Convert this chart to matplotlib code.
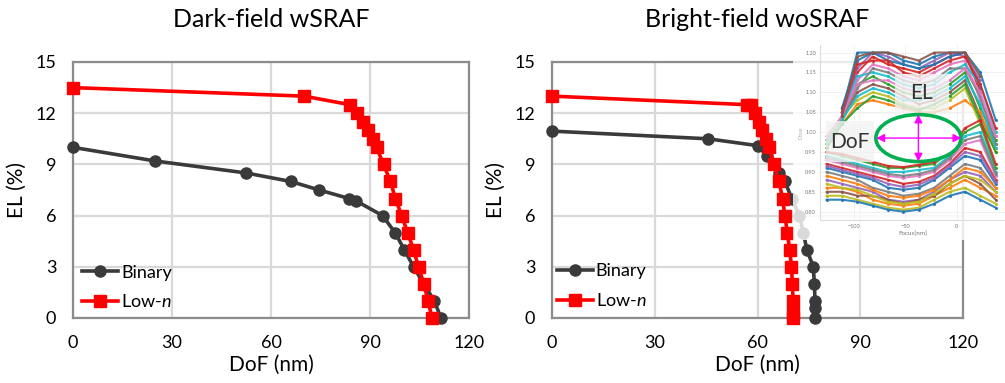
import numpy as np
import matplotlib
matplotlib.use("Agg")
import matplotlib.pyplot as plt
from matplotlib.patches import Rectangle, Ellipse

plt.rcParams['font.family'] = ['Lato', 'DejaVu Sans']
plt.rcParams['mathtext.fontset'] = 'custom'
plt.rcParams['mathtext.rm'] = 'Lato'
plt.rcParams['mathtext.it'] = 'Lato:italic'

# ---------------- data ----------------
titles = ["Dark-field wSRAF", "Bright-field woSRAF"]
xticks = [0, 30, 60, 90, 120]
yticks = [0, 3, 6, 9, 12, 15]

left_lown_x = [0, 70.0, 83.9, 86.2, 87.8, 89.3, 90.8, 92.0, 94.1, 96.2, 97.7,
               99.6, 101.4, 103.2, 104.7, 106.3, 107.6, 108.8]
left_lown_y = [13.5, 13.0, 12.5, 12.0, 11.5, 11.0, 10.5, 10.0, 9.0, 8.0, 7.0,
               6.0, 5.0, 4.0, 3.0, 2.0, 1.0, 0.0]
left_bin_x = [0, 24.9, 52.4, 66.0, 74.6, 83.7, 85.9, 93.8, 97.6, 100.4, 103.2,
              106.3, 109.5, 111.5]
left_bin_y = [10.0, 9.2, 8.5, 8.0, 7.5, 7.0, 6.85, 6.0, 5.0, 4.0, 3.0, 2.0, 1.0, 0.0]

right_lown_x = [0, 57.0, 58.0, 59.2, 60.4, 61.4, 62.4, 63.4, 64.8, 66.3, 67.3,
                68.0, 68.7, 69.4, 69.9, 70.2, 70.4, 70.5, 70.5]
right_lown_y = [13.0, 12.5, 12.5, 12.0, 11.5, 11.0, 10.5, 10.0, 9.0, 8.0, 7.0,
                6.0, 5.0, 4.0, 3.0, 2.0, 1.0, 0.3, 0.0]
right_bin_x = [0, 45.6, 60.0, 62.8, 66.2, 68.0, 70.0, 72.2, 73.4, 74.4, 76.3,
               76.6, 76.8, 76.8, 76.8]
right_bin_y = [10.95, 10.5, 10.1, 9.5, 8.5, 8.0, 7.0, 6.0, 5.0, 4.0, 3.0,
               2.0, 1.0, 0.6, 0.0]

# inset (Bossung-type plot) data
inset_focus = [-127, -112, -97, -82, -67, -52, -37, -22, -7, 8, 23, 38]
nan = np.nan
inset_upper = [
    [nan, 1.05, 1.20, 1.20, 1.20, 1.18, 1.17, 1.19, 1.20, 1.20, 1.11, nan],
    [nan, 1.06, 1.15, 1.19, 1.17, 1.16, 1.15, 1.17, 1.19, 1.20, 1.10, nan],
    [nan, 1.04, 1.13, 1.17, 1.16, 1.14, 1.13, 1.15, 1.17, 1.18, 1.08, 0.99],
    [nan, 1.05, 1.14, 1.15, 1.14, 1.12, 1.11, 1.12, 1.15, 1.17, 1.12, 1.00],
    [nan, 1.03, 1.12, 1.14, 1.12, 1.10, 1.09, 1.10, 1.12, 1.15, 1.06, 0.98],
    [0.98, 1.03, 1.10, 1.12, 1.11, 1.09, 1.07, 1.08, 1.10, 1.13, 1.04, 0.97],
    [0.97, 1.04, 1.08, 1.10, 1.09, 1.07, 1.06, 1.06, 1.08, 1.11, 1.02, 0.96],
    [0.96, 1.02, 1.07, 1.08, 1.07, 1.06, 1.05, 1.05, 1.06, 1.08, 1.05, 0.95],
    [nan, 1.04, 1.16, 1.20, 1.19, 1.17, 1.16, 1.18, 1.20, 1.19, 1.13, nan],
    [nan, 1.03, 1.11, 1.16, 1.15, 1.13, 1.12, 1.13, 1.16, 1.16, 1.09, 0.97],
    [nan, 1.06, 1.18, 1.20, 1.18, 1.17, 1.16, 1.17, 1.19, 1.20, 1.15, 1.03],
    [nan, 1.05, 1.17, 1.18, 1.18, 1.15, 1.14, 1.16, 1.18, 1.19, 1.12, 1.01],
    [0.99, 1.04, 1.12, 1.13, 1.13, 1.11, 1.10, 1.11, 1.13, 1.16, 1.10, 0.99],
    [0.97, 1.03, 1.09, 1.11, 1.10, 1.08, 1.08, 1.09, 1.11, 1.14, 1.07, 0.96],
    [0.96, 1.02, 1.06, 1.09, 1.08, 1.065, 1.055, 1.07, 1.09, 1.12, 1.03, 0.95],
    [nan, 1.04, 1.19, 1.20, 1.20, 1.19, 1.18, 1.20, 1.20, 1.20, 1.14, nan],
]
inset_lower = [
    [0.84, 0.84, 0.83, 0.82, 0.81, 0.805, 0.81, 0.83, 0.85, 0.86, 0.84, 0.82],
    [0.86, 0.86, 0.85, 0.83, 0.82, 0.815, 0.82, 0.84, 0.86, 0.88, 0.86, 0.84],
    [0.88, 0.87, 0.86, 0.85, 0.83, 0.825, 0.83, 0.85, 0.88, 0.90, 0.89, 0.85],
    [0.90, 0.89, 0.88, 0.86, 0.85, 0.84, 0.845, 0.86, 0.89, 0.92, 0.91, 0.86],
    [0.91, 0.90, 0.89, 0.88, 0.86, 0.855, 0.86, 0.88, 0.91, 0.94, 0.93, 0.87],
    [0.92, 0.91, 0.90, 0.89, 0.88, 0.87, 0.875, 0.89, 0.92, 0.96, 0.95, 0.88],
    [0.93, 0.92, 0.91, 0.90, 0.89, 0.885, 0.89, 0.90, 0.93, 0.97, 0.98, 0.89],
    [0.94, 0.93, 0.92, 0.91, 0.90, 0.90, 0.905, 0.91, 0.94, 0.99, 1.00, 0.90],
    [0.95, 0.94, 0.93, 0.92, 0.91, 0.91, 0.915, 0.92, 0.95, 1.00, 1.02, 0.91],
    [0.85, 0.85, 0.84, 0.84, 0.83, 0.82, 0.83, 0.84, 0.87, 0.89, 0.87, 0.83],
    [0.87, 0.86, 0.855, 0.84, 0.825, 0.82, 0.825, 0.845, 0.87, 0.89, 0.88, 0.85],
    [0.89, 0.88, 0.87, 0.855, 0.84, 0.835, 0.84, 0.855, 0.88, 0.91, 0.90, 0.86],
    [0.915, 0.905, 0.895, 0.885, 0.87, 0.862, 0.868, 0.885, 0.915, 0.95, 0.94, 0.875],
    [0.935, 0.925, 0.915, 0.905, 0.895, 0.89, 0.895, 0.905, 0.935, 0.98, 0.99, 0.895],
    [0.83, 0.83, 0.825, 0.815, 0.805, 0.80, 0.805, 0.82, 0.84, 0.85, 0.83, 0.81],
    [0.95, 0.945, 0.935, 0.925, 0.915, 0.912, 0.918, 0.925, 0.955, 1.01, 1.03, 0.92],
]
inset_yticks = [0.80, 0.85, 0.90, 0.95, 1.00, 1.05, 1.10, 1.15, 1.20]
inset_xticks = [-100, -50, 0]

# ---------------- figure ----------------
W, H = 1005, 383
fig = plt.figure(figsize=(W / 100, H / 100), dpi=100)

def px_rect(x0, y0, x1, y1):
    return [x0 / W, 1 - y1 / H, (x1 - x0) / W, (y1 - y0) / H]

RED = '#ff0000'
DARK = '#3a3a3a'
GRID = '#d9d9d9'
FRAME = '#8c8c8c'

panels = [
    (px_rect(73, 62, 469, 318), left_bin_x, left_bin_y, left_lown_x, left_lown_y, (0.023, 0.03)),
    (px_rect(552, 62, 963, 318), right_bin_x, right_bin_y, right_lown_x, right_lown_y, (0.012, 0.035)),
]

for i, (rect, bx, by, lx, ly, lpos) in enumerate(panels):
    ax = fig.add_axes(rect)
    ax.set_xlim(0, 120)
    ax.set_ylim(0, 15)
    ax.set_xticks(xticks)
    ax.set_yticks(yticks)
    ax.grid(True, color=GRID, lw=1.6)
    ax.set_axisbelow(True)
    for s in ax.spines.values():
        s.set_color(FRAME)
        s.set_linewidth(1.6)
    ax.tick_params(length=0, labelsize=13, pad=12, colors='black')
    ax.plot(bx, by, color=DARK, lw=2.6, marker='o', ms=8, label='Binary',
            clip_on=False, zorder=3)
    ax.plot(lx, ly, color=RED, lw=2.6, marker='s', ms=8, label='Low-$n$',
            clip_on=False, zorder=4)
    ax.set_xlabel('DoF (nm)', fontsize=15, labelpad=3)
    ax.set_ylabel('EL (%)', fontsize=15, labelpad=6)
    ax.set_title(titles[i], fontsize=18, pad=25)
    ax.legend(loc='lower left', bbox_to_anchor=lpos, frameon=False,
              fontsize=13, handlelength=2.0, handletextpad=0.15,
              labelspacing=0.7, borderpad=0, borderaxespad=0)

# semi-transparent background of the inset picture
fig.patches.append(Rectangle((793 / W, 1 - 240 / H), 212 / W, 207 / H,
                             transform=fig.transFigure, facecolor='white',
                             alpha=0.82, edgecolor='none', zorder=5))

iax = fig.add_axes(px_rect(820, 45, 1005, 220), zorder=6)
iax.set_facecolor('none')
iax.set_xlim(-133.4, 47.1)
iax.set_ylim(0.779, 1.219)
colors = plt.rcParams['axes.prop_cycle'].by_key()['color']
k = 0
for curve in inset_upper + inset_lower:
    iax.plot(inset_focus, curve, color=colors[(3 * k) % len(colors)], lw=1.5,
             marker='.', ms=2.5, alpha=0.9)
    k += 1
iax.set_yticks(inset_yticks)
iax.set_yticklabels([f"{v:.2f}" for v in inset_yticks])
iax.set_xticks(inset_xticks)
iax.tick_params(labelsize=4, colors='#777777', length=0, pad=3)
iax.grid(True, color='#eeeeee', lw=0.6)
iax.set_axisbelow(True)
for s in iax.spines.values():
    s.set_color('#dddddd')
    s.set_linewidth(0.8)
iax.spines['top'].set_visible(False)
iax.spines['right'].set_visible(False)
iax.set_xlabel('Focus[nm]', fontsize=4.5, color='#777777', labelpad=1)
iax.set_ylabel('Dose', fontsize=4, color='#aaaaaa', labelpad=1)

# EL / DoF label boxes
iax.add_patch(Rectangle((-60, 1.046), 52, 0.10, facecolor='#f3f3f3',
                        alpha=0.8, edgecolor='none', zorder=7))
iax.text(-34, 1.098, 'EL', fontsize=15, color='#333333', ha='center',
         va='center', zorder=8)
iax.add_patch(Rectangle((-128, 0.924), 47, 0.105, facecolor='#f3f3f3',
                        alpha=0.8, edgecolor='none', zorder=7))
iax.text(-104, 0.976, 'DoF', fontsize=15, color='#333333', ha='center',
         va='center', zorder=8)

# ellipse and arrows
iax.add_patch(Ellipse((-37.4, 0.985), 83, 0.118, facecolor='white',
                      edgecolor='#00b050', lw=2.6, zorder=9))
iax.annotate('', xy=(4.5, 0.985), xytext=(-78.5, 0.985),
             arrowprops=dict(arrowstyle='<|-|>', color='#ff00ff', lw=1.0,
                             mutation_scale=12, shrinkA=0, shrinkB=0), zorder=10)
iax.annotate('', xy=(-37.4, 1.044), xytext=(-37.4, 0.926),
             arrowprops=dict(arrowstyle='<|-|>', color='#ff00ff', lw=1.0,
                             mutation_scale=12, shrinkA=0, shrinkB=0), zorder=10)

fig.savefig('out.png', dpi=100)
